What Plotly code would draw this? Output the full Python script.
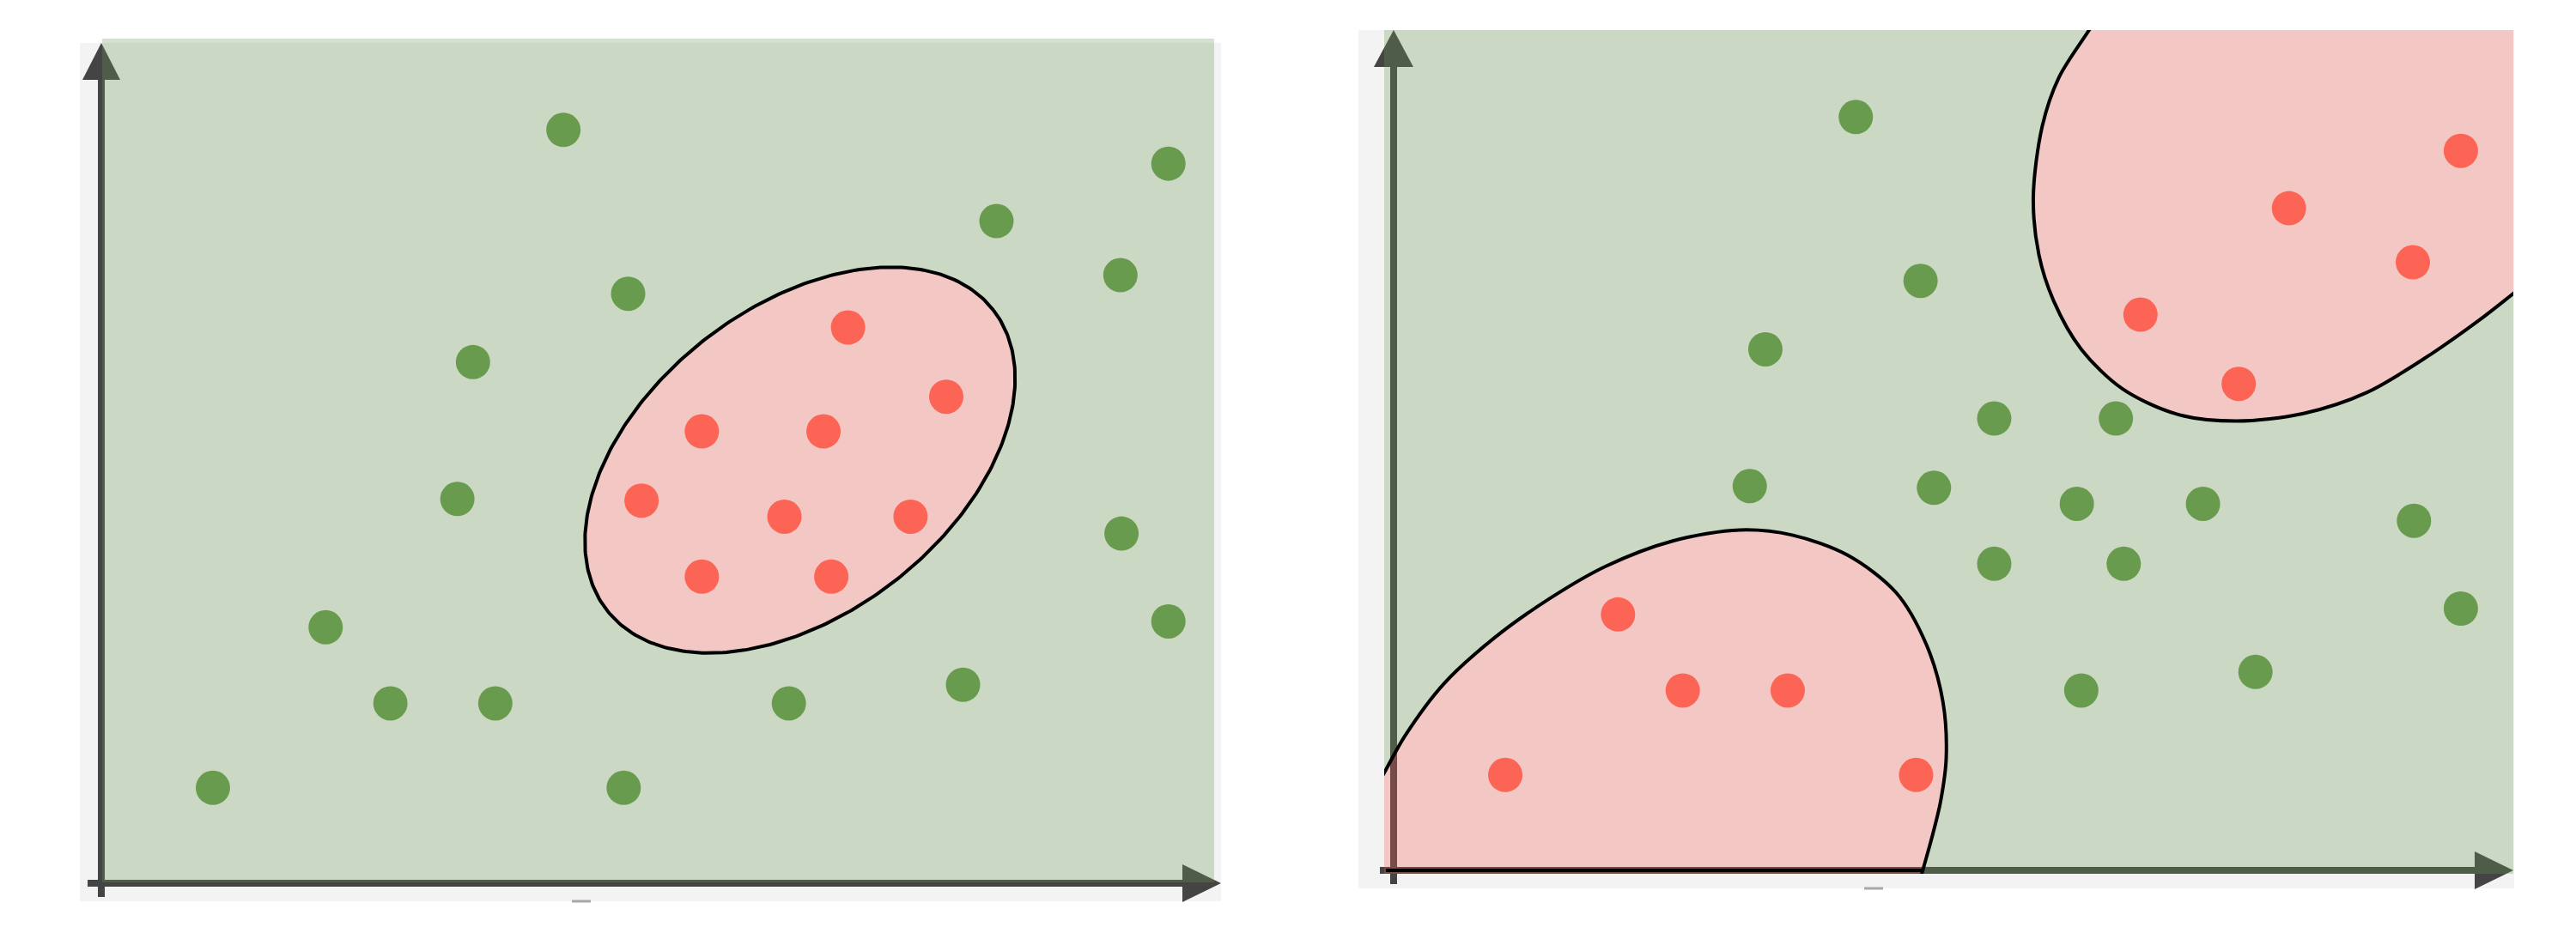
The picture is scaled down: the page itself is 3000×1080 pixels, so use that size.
import numpy as np
import plotly.graph_objects as go

W, H = 3000, 1080

# ---------------- data (shared sample points, data units) ----------------
pt_x = [4.14, 9.56, 8.02, 9.13, 4.72, 3.33, 3.19, 9.14, 9.56, 2.01, 2.59, 3.53, 6.16, 7.72, 1.00, 4.68,
        6.69, 7.57, 5.38, 6.47, 4.84, 6.12, 7.25, 5.38, 6.54]
pt_y = [8.92, 8.52, 7.84, 7.20, 6.98, 6.17, 4.55, 4.14, 3.10, 3.03, 2.13, 2.13, 2.13, 2.35, 1.13, 1.13,
        6.58, 5.76, 5.35, 5.35, 4.53, 4.34, 4.34, 3.63, 3.63]
labels_left = [0] * 16 + [1] * 9
labels_right = [0, 1, 1, 1, 0, 0, 0, 0, 0, 1, 1, 1, 0, 0, 1, 1,
                1, 1, 0, 0, 0, 0, 0, 0, 0]

# left panel: elliptical boundary (centre in data units, semi-axes in px, tilt in degrees)
ell_center = (6.26, 5.01)
ell_axes_px = (285, 179)
ell_tilt_deg = 37.8

# right panel: boundary curves
tr_x = [6.24, 5.96, 5.81, 5.73, 5.78, 5.91, 6.16, 6.53, 7.02, 7.55, 8.15, 8.72, 9.29, 9.72, 10.05]
tr_y = [9.97, 9.39, 8.81, 7.97, 7.29, 6.75, 6.17, 5.70, 5.40, 5.32, 5.41, 5.66, 6.11, 6.51, 6.85]
bl_x = [-0.07, 0.10, 0.45, 0.90, 1.40, 1.90, 2.50, 3.10, 3.57, 4.07, 4.50, 4.77, 4.92, 4.95, 4.90, 4.82, 4.74]
bl_y = [1.19, 1.59, 2.21, 2.75, 3.22, 3.60, 3.90, 4.03, 3.97, 3.73, 3.29, 2.68, 2.00, 1.33, 0.82, 0.38, 0.0]

# ---------------- styles ----------------
GREEN_PT = "#699b4e"
RED_PT = "#fc6455"
GREEN_FILL = "rgba(106,154,81,0.29)"
RED_FILL = "rgba(246,92,78,0.29)"
AXIS_C = "#444444"
PANEL_C = "#f3f3f3"
SMOOTH = 0.9

# plot-area geometry (pixels) and data ranges
L_XPX, L_YPX = (119, 1414), (45, 1028)
L_XR, L_YR = (0.008, 9.97), (0.01, 10.0)
R_XPX, R_YPX = (1612, 2927), (35, 1018)
R_X_EDGE0 = -0.031
R_XR, R_YR = (R_X_EDGE0 - 7 / 130.0, 10.03), (-4 / 98.4, 9.95)


def dom_x(p):
    return [p[0] / W, p[1] / W]


def dom_y(p):
    return [1 - p[1] / H, 1 - p[0] / H]


def px(x):
    return x / W


def py(y):
    return 1 - y / H


fig = go.Figure()

# ---------------- background panels + axes (paper shapes, below everything) ----------------
shapes = []
for (x0, y0, x1, y1) in [(93, 50, 1422, 1050), (1582, 35, 2928, 1035)]:
    shapes.append(dict(type="rect", xref="paper", yref="paper", x0=px(x0), x1=px(x1), y0=py(y1), y1=py(y0),
                       fillcolor=PANEL_C, line=dict(width=0), layer="below"))


def line(x0, y0, x1, y1, w=8, c=AXIS_C):
    return dict(type="line", xref="paper", yref="paper", x0=px(x0), y0=py(y0), x1=px(x1), y1=py(y1),
                line=dict(color=c, width=w), layer="below")


def tri(pts):
    d = "M " + " L ".join(f"{px(a):.6f},{py(b):.6f}" for a, b in pts) + " Z"
    return dict(type="path", xref="paper", yref="paper", path=d, fillcolor=AXIS_C,
                line=dict(width=0), layer="below")


shapes += [line(118, 1045, 118, 92), tri([(96, 93), (140, 93), (118, 50)]),
           line(102, 1029, 1378, 1029), tri([(1377, 1007), (1377, 1051), (1422, 1029)])]
shapes += [line(1623, 1030, 1623, 77), tri([(1600, 78), (1646, 78), (1623, 35)]),
           line(1607, 1014, 2883, 1014), tri([(2882, 992), (2882, 1036), (2927, 1014)])]
shapes += [line(666, 1050, 688, 1050, w=3, c="#a8a8a8"), line(2171, 1035, 2193, 1035, w=3, c="#a8a8a8")]

# ---------------- left panel ----------------
sx_L = (L_XPX[1] - L_XPX[0]) / (L_XR[1] - L_XR[0])
sy_L = (L_YPX[1] - L_YPX[0]) / (L_YR[1] - L_YR[0])
t = np.linspace(0, 2 * np.pi, 361)
th = np.deg2rad(ell_tilt_deg)
a, b = ell_axes_px
ex = ell_center[0] + (a * np.cos(t) * np.cos(th) - b * np.sin(t) * np.sin(th)) / sx_L
ey = ell_center[1] + (a * np.cos(t) * np.sin(th) + b * np.sin(t) * np.cos(th)) / sy_L

rect = [(L_XR[0], L_YR[0]), (L_XR[1], L_YR[0]), (L_XR[1], L_YR[1]), (L_XR[0], L_YR[1])]
p = "M " + " L ".join(f"{u:.4f},{v:.4f}" for u, v in rect) + " Z "
p += "M " + " L ".join(f"{u:.4f},{v:.4f}" for u, v in zip(ex, ey)) + " Z"
shapes.append(dict(type="path", xref="x", yref="y", path=p, fillcolor=GREEN_FILL,
                   fillrule="evenodd", line=dict(width=0), layer="below"))

fig.add_trace(go.Scatter(x=ex, y=ey, mode="lines", fill="toself", fillcolor=RED_FILL,
                         line=dict(color="black", width=4), xaxis="x", yaxis="y",
                         hoverinfo="skip", showlegend=False))
for lab, col in [(0, GREEN_PT), (1, RED_PT)]:
    xs = [x for x, l in zip(pt_x, labels_left) if l == lab]
    ys = [y for y, l in zip(pt_y, labels_left) if l == lab]
    fig.add_trace(go.Scatter(x=xs, y=ys, mode="markers", xaxis="x", yaxis="y",
                             marker=dict(size=40, color=col, line=dict(width=0)), showlegend=False))


# ---------------- right panel ----------------
def extend(xs, ys):
    """prepend/append two off-canvas guide points continuing each end of a curve"""
    sx = [xs[0] + 2 * (xs[0] - xs[1]), xs[0] + (xs[0] - xs[1])]
    sy = [ys[0] + 2 * (ys[0] - ys[1]), ys[0] + (ys[0] - ys[1])]
    enx = [xs[-1] + (xs[-1] - xs[-2]), xs[-1] + 2 * (xs[-1] - xs[-2])]
    eny = [ys[-1] + (ys[-1] - ys[-2]), ys[-1] + 2 * (ys[-1] - ys[-2])]
    return sx + list(xs) + enx, sy + list(ys) + eny


TRx, TRy = extend(tr_x, tr_y)
BLx, BLy = extend(bl_x, bl_y)

spl = dict(shape="spline", smoothing=SMOOTH, simplify=False)

# green region: everything outside the two red regions (all corners far off-canvas)
gx = TRx + [11.2, 11.2, 5.2] + BLx[::-1] + [-1.2, -1.2, TRx[0]]
gy = TRy + [8.2, -1.6, -1.6] + BLy[::-1] + [0.0, 11.8, 11.8]
fig.add_trace(go.Scatter(x=gx, y=gy, mode="lines", fill="toself", fillcolor=GREEN_FILL,
                         line=dict(width=0, **spl), xaxis="x2", yaxis="y2",
                         hoverinfo="skip", showlegend=False))
# red regions with their boundary lines
fig.add_trace(go.Scatter(x=TRx + [11.6], y=TRy + [11.6], mode="lines", fill="toself", fillcolor=RED_FILL,
                         line=dict(width=0, **spl), xaxis="x2", yaxis="y2",
                         hoverinfo="skip", showlegend=False))
fig.add_trace(go.Scatter(x=BLx + [-1.2], y=BLy + [-1.2], mode="lines", fill="toself", fillcolor=RED_FILL,
                         line=dict(width=0, **spl), xaxis="x2", yaxis="y2",
                         hoverinfo="skip", showlegend=False))
fig.add_trace(go.Scatter(x=TRx, y=TRy, mode="lines", line=dict(color="black", width=4, **spl),
                         xaxis="x2", yaxis="y2", hoverinfo="skip", showlegend=False))
fig.add_trace(go.Scatter(x=BLx, y=BLy, mode="lines", line=dict(color="black", width=4, **spl),
                         xaxis="x2", yaxis="y2", hoverinfo="skip", showlegend=False))
fig.add_trace(go.Scatter(x=[bl_x[-1], bl_x[0]], y=[0.0, 0.0], mode="lines", line=dict(color="black", width=4),
                         xaxis="x2", yaxis="y2", hoverinfo="skip", showlegend=False))
for lab, col in [(0, GREEN_PT), (1, RED_PT)]:
    xs = [x for x, l in zip(pt_x, labels_right) if l == lab]
    ys = [y for y, l in zip(pt_y, labels_right) if l == lab]
    fig.add_trace(go.Scatter(x=xs, y=ys, mode="markers", xaxis="x2", yaxis="y2",
                             marker=dict(size=40, color=col, line=dict(width=0)), showlegend=False))

ax_common = dict(visible=False, showgrid=False, zeroline=False, fixedrange=True)
fig.update_layout(
    width=W, height=H,
    margin=dict(l=0, r=0, t=0, b=0),
    paper_bgcolor="white", plot_bgcolor="rgba(0,0,0,0)",
    showlegend=False,
    shapes=shapes,
    xaxis=dict(domain=dom_x(L_XPX), range=list(L_XR), anchor="y", **ax_common),
    yaxis=dict(domain=dom_y(L_YPX), range=list(L_YR), anchor="x", **ax_common),
    xaxis2=dict(domain=dom_x(R_XPX), range=list(R_XR), anchor="y2", **ax_common),
    yaxis2=dict(domain=dom_y(R_YPX), range=list(R_YR), anchor="x2", **ax_common),
)

fig.write_html("out.html")
